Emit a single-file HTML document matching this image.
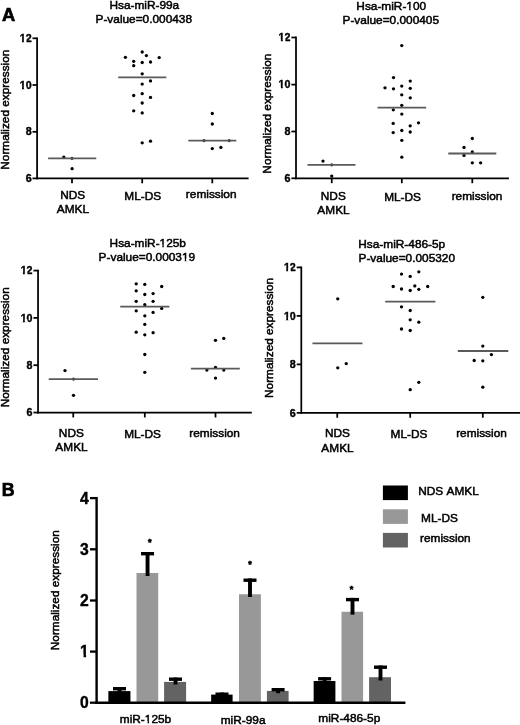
<!DOCTYPE html>
<html lang="en"><head><meta charset="utf-8"><title>Figure</title>
<style>html,body{margin:0;padding:0;background:#fff;}body{width:520px;height:725px;overflow:hidden;}svg{display:block;}svg text{font-family:"Liberation Sans", sans-serif;fill:#000;font-kerning:none;}</style></head><body>
<svg width="520" height="725" viewBox="0 0 520 725">
<rect width="520" height="725" fill="#fff"/>
<text x="2.0" y="20.7" font-size="18.3" text-anchor="start" font-weight="bold" stroke="#000" stroke-width="0.7">A</text>
<text x="1.75" y="496.4" font-size="17.8" text-anchor="start" font-weight="bold" stroke="#000" stroke-width="0.7">B</text>
<line x1="37.1" y1="37.42" x2="37.1" y2="179.28" stroke="#000" stroke-width="1.75"/>
<line x1="36.23" y1="178.4" x2="248.6" y2="178.4" stroke="#000" stroke-width="1.75"/>
<line x1="32.5" y1="38.3" x2="37.1" y2="38.3" stroke="#000" stroke-width="1.75"/>
<text x="31.6" y="41.95" font-size="10.7" text-anchor="end" font-weight="bold" stroke="#000" stroke-width="0.4">12</text>
<line x1="32.5" y1="85.0" x2="37.1" y2="85.0" stroke="#000" stroke-width="1.75"/>
<text x="31.6" y="88.65" font-size="10.7" text-anchor="end" font-weight="bold" stroke="#000" stroke-width="0.4">10</text>
<line x1="32.5" y1="131.8" x2="37.1" y2="131.8" stroke="#000" stroke-width="1.75"/>
<text x="31.6" y="135.45" font-size="10.7" text-anchor="end" font-weight="bold" stroke="#000" stroke-width="0.4">8</text>
<line x1="32.5" y1="178.4" x2="37.1" y2="178.4" stroke="#000" stroke-width="1.75"/>
<text x="31.6" y="182.05" font-size="10.7" text-anchor="end" font-weight="bold" stroke="#000" stroke-width="0.4">6</text>
<line x1="72" y1="178.4" x2="72" y2="183.3" stroke="#000" stroke-width="1.75"/>
<line x1="142.2" y1="178.4" x2="142.2" y2="183.3" stroke="#000" stroke-width="1.75"/>
<line x1="212.3" y1="178.4" x2="212.3" y2="183.3" stroke="#000" stroke-width="1.75"/>
<text x="8.8" y="109.7" font-size="11.6" text-anchor="middle" textLength="120.02" lengthAdjust="spacingAndGlyphs" transform="rotate(-90 8.8 109.7)" stroke="#000" stroke-width="0.5">Normalized expression</text>
<text x="109.43" y="8.6" font-size="11.6" text-anchor="start" textLength="69.8" lengthAdjust="spacingAndGlyphs" stroke="#000" stroke-width="0.5">Hsa-miR-99a</text>
<text x="95.53" y="22.7" font-size="11.6" text-anchor="start" textLength="96.52" lengthAdjust="spacingAndGlyphs" stroke="#000" stroke-width="0.5">P-value=0.000438</text>
<text x="72.75" y="199.4" font-size="11.6" text-anchor="middle" textLength="25.02" lengthAdjust="spacingAndGlyphs" stroke="#000" stroke-width="0.5">NDS</text>
<text x="72.9" y="213.4" font-size="11.6" text-anchor="middle" textLength="32.27" lengthAdjust="spacingAndGlyphs" stroke="#000" stroke-width="0.5">AMKL</text>
<text x="142.8" y="200.2" font-size="11.6" text-anchor="middle" textLength="36.87" lengthAdjust="spacingAndGlyphs" stroke="#000" stroke-width="0.5">ML-DS</text>
<text x="211.2" y="198.3" font-size="11.6" text-anchor="middle" textLength="50.7" lengthAdjust="spacingAndGlyphs" stroke="#000" stroke-width="0.5">remission</text>
<g fill="#000"><circle cx="63.8" cy="157.1" r="1.65"/><circle cx="72.1" cy="168.7" r="1.65"/><circle cx="125.4" cy="57.3" r="1.65"/><circle cx="142.2" cy="52.0" r="1.65"/><circle cx="146.4" cy="55.6" r="1.65"/><circle cx="159.2" cy="57.6" r="1.65"/><circle cx="133.7" cy="61.3" r="1.65"/><circle cx="142.2" cy="62.5" r="1.65"/><circle cx="150.5" cy="62.0" r="1.65"/><circle cx="133.7" cy="65.7" r="1.65"/><circle cx="142.2" cy="73.8" r="1.65"/><circle cx="150.5" cy="80.9" r="1.65"/><circle cx="142.2" cy="84.1" r="1.65"/><circle cx="133.7" cy="95.5" r="1.65"/><circle cx="142.2" cy="93.7" r="1.65"/><circle cx="150.5" cy="97.4" r="1.65"/><circle cx="142.2" cy="103.0" r="1.65"/><circle cx="133.7" cy="110.8" r="1.65"/><circle cx="142.2" cy="112.9" r="1.65"/><circle cx="142.2" cy="142.8" r="1.65"/><circle cx="150.5" cy="141.2" r="1.65"/><circle cx="212.3" cy="113.5" r="1.65"/><circle cx="212.3" cy="124.0" r="1.65"/><circle cx="212.3" cy="148.6" r="1.65"/><circle cx="220.9" cy="147.4" r="1.65"/></g>
<g fill="#222"><circle cx="72" cy="158.3" r="1.6"/><circle cx="204" cy="140.6" r="1.6"/><circle cx="229.2" cy="140.6" r="1.6"/></g>
<line x1="48.1" y1="158.3" x2="96.3" y2="158.3" stroke="#5a5a5a" stroke-width="1.8"/>
<line x1="118.2" y1="77.4" x2="166.3" y2="77.4" stroke="#5a5a5a" stroke-width="1.8"/>
<line x1="188.3" y1="140.7" x2="236.3" y2="140.7" stroke="#5a5a5a" stroke-width="1.8"/>
<line x1="296.0" y1="36.62" x2="296.0" y2="179.18" stroke="#000" stroke-width="1.75"/>
<line x1="295.12" y1="178.3" x2="508.9" y2="178.3" stroke="#000" stroke-width="1.75"/>
<line x1="291.4" y1="37.5" x2="296.0" y2="37.5" stroke="#000" stroke-width="1.75"/>
<text x="290.5" y="41.15" font-size="10.7" text-anchor="end" font-weight="bold" stroke="#000" stroke-width="0.4">12</text>
<line x1="291.4" y1="84.6" x2="296.0" y2="84.6" stroke="#000" stroke-width="1.75"/>
<text x="290.5" y="88.25" font-size="10.7" text-anchor="end" font-weight="bold" stroke="#000" stroke-width="0.4">10</text>
<line x1="291.4" y1="131.5" x2="296.0" y2="131.5" stroke="#000" stroke-width="1.75"/>
<text x="290.5" y="135.15" font-size="10.7" text-anchor="end" font-weight="bold" stroke="#000" stroke-width="0.4">8</text>
<line x1="291.4" y1="178.3" x2="296.0" y2="178.3" stroke="#000" stroke-width="1.75"/>
<text x="290.5" y="181.95" font-size="10.7" text-anchor="end" font-weight="bold" stroke="#000" stroke-width="0.4">6</text>
<line x1="331.75" y1="178.3" x2="331.75" y2="183.2" stroke="#000" stroke-width="1.75"/>
<line x1="401.8" y1="178.3" x2="401.8" y2="183.2" stroke="#000" stroke-width="1.75"/>
<line x1="472.3" y1="178.3" x2="472.3" y2="183.2" stroke="#000" stroke-width="1.75"/>
<text x="270.9" y="113.6" font-size="11.6" text-anchor="middle" textLength="120.02" lengthAdjust="spacingAndGlyphs" transform="rotate(-90 270.9 113.6)" stroke="#000" stroke-width="0.5">Normalized expression</text>
<text x="356.33" y="9.8" font-size="11.6" text-anchor="start" textLength="69.8" lengthAdjust="spacingAndGlyphs" stroke="#000" stroke-width="0.5">Hsa-miR-100</text>
<text x="342.53" y="24.1" font-size="11.6" text-anchor="start" textLength="96.52" lengthAdjust="spacingAndGlyphs" stroke="#000" stroke-width="0.5">P-value=0.000405</text>
<text x="333.3" y="199.8" font-size="11.6" text-anchor="middle" textLength="25.02" lengthAdjust="spacingAndGlyphs" stroke="#000" stroke-width="0.5">NDS</text>
<text x="333.5" y="213.7" font-size="11.6" text-anchor="middle" textLength="32.27" lengthAdjust="spacingAndGlyphs" stroke="#000" stroke-width="0.5">AMKL</text>
<text x="402.6" y="200.6" font-size="11.6" text-anchor="middle" textLength="36.87" lengthAdjust="spacingAndGlyphs" stroke="#000" stroke-width="0.5">ML-DS</text>
<text x="477" y="199.8" font-size="11.6" text-anchor="middle" textLength="50.7" lengthAdjust="spacingAndGlyphs" stroke="#000" stroke-width="0.5">remission</text>
<g fill="#000"><circle cx="323" cy="161.05" r="1.65"/><circle cx="331.75" cy="176.05" r="1.65"/><circle cx="401.75" cy="45.55" r="1.65"/><circle cx="393.5" cy="77.55" r="1.65"/><circle cx="410.25" cy="81.05" r="1.65"/><circle cx="385" cy="87.8" r="1.65"/><circle cx="393.5" cy="88.8" r="1.65"/><circle cx="401.75" cy="86.05" r="1.65"/><circle cx="410.25" cy="88.3" r="1.65"/><circle cx="401.75" cy="94.8" r="1.65"/><circle cx="410.25" cy="97.8" r="1.65"/><circle cx="401.75" cy="105.3" r="1.65"/><circle cx="393.3" cy="109.8" r="1.65"/><circle cx="401.8" cy="114.1" r="1.65"/><circle cx="393.2" cy="123.4" r="1.65"/><circle cx="418.5" cy="122.8" r="1.65"/><circle cx="410.2" cy="125.8" r="1.65"/><circle cx="393.2" cy="132.6" r="1.65"/><circle cx="401.8" cy="130.5" r="1.65"/><circle cx="410.2" cy="132.0" r="1.65"/><circle cx="401.8" cy="140.3" r="1.65"/><circle cx="401.8" cy="157.2" r="1.65"/><circle cx="472.3" cy="138.5" r="1.65"/><circle cx="464" cy="147.4" r="1.65"/><circle cx="472.3" cy="152.0" r="1.65"/><circle cx="464" cy="155.4" r="1.65"/><circle cx="472.3" cy="162.8" r="1.65"/><circle cx="480.6" cy="162.8" r="1.65"/></g>
<g fill="#222"><circle cx="331.75" cy="164.8" r="1.6"/></g>
<line x1="307.5" y1="164.8" x2="355.5" y2="164.8" stroke="#5a5a5a" stroke-width="1.8"/>
<line x1="377.5" y1="107.6" x2="426.2" y2="107.6" stroke="#5a5a5a" stroke-width="1.8"/>
<line x1="448.3" y1="153.5" x2="496.3" y2="153.5" stroke="#5a5a5a" stroke-width="1.8"/>
<line x1="38.05" y1="269.73" x2="38.05" y2="413.43" stroke="#000" stroke-width="1.75"/>
<line x1="37.17" y1="412.55" x2="251.8" y2="412.55" stroke="#000" stroke-width="1.75"/>
<line x1="33.45" y1="270.6" x2="38.05" y2="270.6" stroke="#000" stroke-width="1.75"/>
<text x="32.55" y="274.25" font-size="10.7" text-anchor="end" font-weight="bold" stroke="#000" stroke-width="0.4">12</text>
<line x1="33.45" y1="317.9" x2="38.05" y2="317.9" stroke="#000" stroke-width="1.75"/>
<text x="32.55" y="321.55" font-size="10.7" text-anchor="end" font-weight="bold" stroke="#000" stroke-width="0.4">10</text>
<line x1="33.45" y1="365.2" x2="38.05" y2="365.2" stroke="#000" stroke-width="1.75"/>
<text x="32.55" y="368.85" font-size="10.7" text-anchor="end" font-weight="bold" stroke="#000" stroke-width="0.4">8</text>
<line x1="33.45" y1="412.55" x2="38.05" y2="412.55" stroke="#000" stroke-width="1.75"/>
<text x="32.55" y="416.2" font-size="10.7" text-anchor="end" font-weight="bold" stroke="#000" stroke-width="0.4">6</text>
<line x1="73.25" y1="412.55" x2="73.25" y2="417.45" stroke="#000" stroke-width="1.75"/>
<line x1="144.8" y1="412.55" x2="144.8" y2="417.45" stroke="#000" stroke-width="1.75"/>
<line x1="215.5" y1="412.55" x2="215.5" y2="417.45" stroke="#000" stroke-width="1.75"/>
<text x="8.6" y="347.3" font-size="11.6" text-anchor="middle" textLength="120.02" lengthAdjust="spacingAndGlyphs" transform="rotate(-90 8.6 347.3)" stroke="#000" stroke-width="0.5">Normalized expression</text>
<text x="109.58" y="246.7" font-size="11.6" text-anchor="start" textLength="76.39" lengthAdjust="spacingAndGlyphs" stroke="#000" stroke-width="0.5">Hsa-miR-125b</text>
<text x="98.63" y="260.7" font-size="11.6" text-anchor="start" textLength="96.52" lengthAdjust="spacingAndGlyphs" stroke="#000" stroke-width="0.5">P-value=0.000319</text>
<text x="71.4" y="436.9" font-size="11.6" text-anchor="middle" textLength="25.02" lengthAdjust="spacingAndGlyphs" stroke="#000" stroke-width="0.5">NDS</text>
<text x="71.5" y="450.6" font-size="11.6" text-anchor="middle" textLength="32.27" lengthAdjust="spacingAndGlyphs" stroke="#000" stroke-width="0.5">AMKL</text>
<text x="142.6" y="438.1" font-size="11.6" text-anchor="middle" textLength="36.87" lengthAdjust="spacingAndGlyphs" stroke="#000" stroke-width="0.5">ML-DS</text>
<text x="214.6" y="437.3" font-size="11.6" text-anchor="middle" textLength="50.7" lengthAdjust="spacingAndGlyphs" stroke="#000" stroke-width="0.5">remission</text>
<g fill="#000"><circle cx="65" cy="370.55" r="1.65"/><circle cx="73.5" cy="395.3" r="1.65"/><circle cx="136.2" cy="283.8" r="1.65"/><circle cx="144.8" cy="284.4" r="1.65"/><circle cx="161.7" cy="286.5" r="1.65"/><circle cx="136.2" cy="290.8" r="1.65"/><circle cx="144.8" cy="294.5" r="1.65"/><circle cx="153.1" cy="293.6" r="1.65"/><circle cx="136.2" cy="301.3" r="1.65"/><circle cx="153.1" cy="301.3" r="1.65"/><circle cx="144.8" cy="304.7" r="1.65"/><circle cx="161.7" cy="308.4" r="1.65"/><circle cx="136.2" cy="310.8" r="1.65"/><circle cx="153.1" cy="312.4" r="1.65"/><circle cx="144.8" cy="315.8" r="1.65"/><circle cx="144.8" cy="324.4" r="1.65"/><circle cx="136.2" cy="332.2" r="1.65"/><circle cx="153.1" cy="332.7" r="1.65"/><circle cx="144.8" cy="334.8" r="1.65"/><circle cx="144.8" cy="354.5" r="1.65"/><circle cx="144.8" cy="372.3" r="1.65"/><circle cx="215.5" cy="340.3" r="1.65"/><circle cx="223.8" cy="338.4" r="1.65"/><circle cx="206.9" cy="370.1" r="1.65"/><circle cx="215.5" cy="367.4" r="1.65"/><circle cx="223.8" cy="370.1" r="1.65"/><circle cx="215.5" cy="378.1" r="1.65"/></g>
<g fill="#222"><circle cx="73.5" cy="379.05" r="1.6"/></g>
<line x1="48.75" y1="379.05" x2="98" y2="379.05" stroke="#5a5a5a" stroke-width="1.8"/>
<line x1="120.2" y1="306.7" x2="169.4" y2="306.7" stroke="#5a5a5a" stroke-width="1.8"/>
<line x1="190.9" y1="368.6" x2="239.8" y2="368.6" stroke="#5a5a5a" stroke-width="1.8"/>
<line x1="301.3" y1="266.52" x2="301.3" y2="413.73" stroke="#000" stroke-width="1.75"/>
<line x1="300.43" y1="412.85" x2="520" y2="412.85" stroke="#000" stroke-width="1.75"/>
<line x1="296.7" y1="267.4" x2="301.3" y2="267.4" stroke="#000" stroke-width="1.75"/>
<text x="295.8" y="271.05" font-size="10.7" text-anchor="end" font-weight="bold" stroke="#000" stroke-width="0.4">12</text>
<line x1="296.7" y1="315.9" x2="301.3" y2="315.9" stroke="#000" stroke-width="1.75"/>
<text x="295.8" y="319.55" font-size="10.7" text-anchor="end" font-weight="bold" stroke="#000" stroke-width="0.4">10</text>
<line x1="296.7" y1="364.4" x2="301.3" y2="364.4" stroke="#000" stroke-width="1.75"/>
<text x="295.8" y="368.05" font-size="10.7" text-anchor="end" font-weight="bold" stroke="#000" stroke-width="0.4">8</text>
<line x1="296.7" y1="412.85" x2="301.3" y2="412.85" stroke="#000" stroke-width="1.75"/>
<text x="295.8" y="416.5" font-size="10.7" text-anchor="end" font-weight="bold" stroke="#000" stroke-width="0.4">6</text>
<line x1="337.25" y1="412.85" x2="337.25" y2="417.75" stroke="#000" stroke-width="1.75"/>
<line x1="410.2" y1="412.85" x2="410.2" y2="417.75" stroke="#000" stroke-width="1.75"/>
<line x1="482.8" y1="412.85" x2="482.8" y2="417.75" stroke="#000" stroke-width="1.75"/>
<text x="272.7" y="337.9" font-size="11.6" text-anchor="middle" textLength="120.02" lengthAdjust="spacingAndGlyphs" transform="rotate(-90 272.7 337.9)" stroke="#000" stroke-width="0.5">Normalized expression</text>
<text x="358.28" y="247.5" font-size="11.6" text-anchor="start" textLength="86.93" lengthAdjust="spacingAndGlyphs" stroke="#000" stroke-width="0.5">Hsa-miR-486-5p</text>
<text x="358.53" y="261.8" font-size="11.6" text-anchor="start" textLength="96.52" lengthAdjust="spacingAndGlyphs" stroke="#000" stroke-width="0.5">P-value=0.005320</text>
<text x="337.5" y="437.2" font-size="11.6" text-anchor="middle" textLength="25.02" lengthAdjust="spacingAndGlyphs" stroke="#000" stroke-width="0.5">NDS</text>
<text x="337.5" y="451.7" font-size="11.6" text-anchor="middle" textLength="32.27" lengthAdjust="spacingAndGlyphs" stroke="#000" stroke-width="0.5">AMKL</text>
<text x="409" y="438.4" font-size="11.6" text-anchor="middle" textLength="36.87" lengthAdjust="spacingAndGlyphs" stroke="#000" stroke-width="0.5">ML-DS</text>
<text x="481.5" y="437.3" font-size="11.6" text-anchor="middle" textLength="50.7" lengthAdjust="spacingAndGlyphs" stroke="#000" stroke-width="0.5">remission</text>
<g fill="#000"><circle cx="337.75" cy="298.8" r="1.65"/><circle cx="337.75" cy="367.8" r="1.65"/><circle cx="346.25" cy="363.55" r="1.65"/><circle cx="401.5" cy="274.1" r="1.65"/><circle cx="410.2" cy="276.4" r="1.65"/><circle cx="418.8" cy="271.8" r="1.65"/><circle cx="393.2" cy="286.5" r="1.65"/><circle cx="401.5" cy="289.0" r="1.65"/><circle cx="410.2" cy="290.5" r="1.65"/><circle cx="414.8" cy="285.9" r="1.65"/><circle cx="418.8" cy="289.3" r="1.65"/><circle cx="427.7" cy="286.5" r="1.65"/><circle cx="401.5" cy="306.8" r="1.65"/><circle cx="410.2" cy="310.5" r="1.65"/><circle cx="410.2" cy="319.8" r="1.65"/><circle cx="418.8" cy="322.2" r="1.65"/><circle cx="401.5" cy="329.0" r="1.65"/><circle cx="410.2" cy="330.5" r="1.65"/><circle cx="410.2" cy="389.7" r="1.65"/><circle cx="418.8" cy="382.3" r="1.65"/><circle cx="482.8" cy="297.3" r="1.65"/><circle cx="482.8" cy="346.1" r="1.65"/><circle cx="491.4" cy="354.6" r="1.65"/><circle cx="474.2" cy="360.5" r="1.65"/><circle cx="482.8" cy="360.8" r="1.65"/><circle cx="482.8" cy="387.2" r="1.65"/></g>
<line x1="312.5" y1="343.3" x2="362.5" y2="343.3" stroke="#5a5a5a" stroke-width="1.8"/>
<line x1="385.2" y1="301.7" x2="435.4" y2="301.7" stroke="#5a5a5a" stroke-width="1.8"/>
<line x1="457.8" y1="351.0" x2="508.3" y2="351.0" stroke="#5a5a5a" stroke-width="1.8"/>
<rect x="108.35" y="691.1" width="22.1" height="11.6" fill="#000"/>
<rect x="136.5" y="573" width="21.7" height="129.7" fill="#989898"/>
<rect x="164.1" y="681.9" width="22.0" height="20.8" fill="#636363"/>
<rect x="211.15" y="694.6" width="21.45" height="8.1" fill="#000"/>
<rect x="239" y="594.25" width="21.9" height="108.45" fill="#989898"/>
<rect x="266.9" y="690.9" width="21.7" height="11.8" fill="#636363"/>
<rect x="313.65" y="681.0" width="21.75" height="21.7" fill="#000"/>
<rect x="341.5" y="611.75" width="21.6" height="90.95" fill="#989898"/>
<rect x="369.1" y="677.2" width="21.9" height="25.5" fill="#636363"/>
<rect x="113.0" y="687.0" width="13.0" height="3.4" fill="#000"/>
<rect x="117.55" y="687.0" width="3.9" height="5.0" fill="#000"/>
<rect x="141.05" y="552.0" width="13.0" height="3.4" fill="#000"/>
<rect x="145.60000000000002" y="552.0" width="3.9" height="24.0" fill="#000"/>
<rect x="169.0" y="677.5" width="13.0" height="3.4" fill="#000"/>
<rect x="173.55" y="677.5" width="3.9" height="7.0" fill="#000"/>
<rect x="215.5" y="692.5" width="13.0" height="3.4" fill="#000"/>
<rect x="220.05" y="692.5" width="3.9" height="3.0" fill="#000"/>
<rect x="243.5" y="578.5" width="13.0" height="3.4" fill="#000"/>
<rect x="248.05" y="578.5" width="3.9" height="18.5" fill="#000"/>
<rect x="271.6" y="688.0" width="13.0" height="3.4" fill="#000"/>
<rect x="276.15000000000003" y="688.0" width="3.9" height="5.2" fill="#000"/>
<rect x="318.1" y="677.1" width="13.0" height="3.4" fill="#000"/>
<rect x="322.65000000000003" y="677.1" width="3.9" height="4.9" fill="#000"/>
<rect x="346.0" y="597.9" width="13.0" height="3.4" fill="#000"/>
<rect x="350.55" y="597.9" width="3.9" height="16.7" fill="#000"/>
<rect x="374.0" y="665.5" width="13.0" height="3.4" fill="#000"/>
<rect x="378.55" y="665.5" width="3.9" height="15.0" fill="#000"/>
<line x1="96.6" y1="496.95" x2="96.6" y2="703.9" stroke="#000" stroke-width="2.4"/>
<line x1="95.4" y1="702.7" x2="405.4" y2="702.7" stroke="#000" stroke-width="2.4"/>
<line x1="90.0" y1="498.1" x2="96.6" y2="498.1" stroke="#000" stroke-width="2.3"/>
<text x="88.8" y="503.6" font-size="15.7" text-anchor="end" font-weight="bold" stroke="#000" stroke-width="0.4">4</text>
<line x1="90.0" y1="549.3" x2="96.6" y2="549.3" stroke="#000" stroke-width="2.3"/>
<text x="88.8" y="554.8" font-size="15.7" text-anchor="end" font-weight="bold" stroke="#000" stroke-width="0.4">3</text>
<line x1="90.0" y1="600.5" x2="96.6" y2="600.5" stroke="#000" stroke-width="2.3"/>
<text x="88.8" y="606.0" font-size="15.7" text-anchor="end" font-weight="bold" stroke="#000" stroke-width="0.4">2</text>
<line x1="90.0" y1="651.6" x2="96.6" y2="651.6" stroke="#000" stroke-width="2.3"/>
<text x="88.8" y="657.1" font-size="15.7" text-anchor="end" font-weight="bold" stroke="#000" stroke-width="0.4">1</text>
<line x1="90.0" y1="702.7" x2="96.6" y2="702.7" stroke="#000" stroke-width="2.3"/>
<text x="88.8" y="708.2" font-size="15.7" text-anchor="end" font-weight="bold" stroke="#000" stroke-width="0.4">0</text>
<text x="59.2" y="590.2" font-size="11.6" text-anchor="middle" textLength="120.02" lengthAdjust="spacingAndGlyphs" transform="rotate(-90 59.2 590.2)" stroke="#000" stroke-width="0.5">Normalized expression</text>
<text x="145.5" y="722.9" font-size="11.6" text-anchor="middle" textLength="51.37" lengthAdjust="spacingAndGlyphs" stroke="#000" stroke-width="0.5">miR-125b</text>
<text x="243.1" y="723.7" font-size="11.6" text-anchor="middle" textLength="44.78" lengthAdjust="spacingAndGlyphs" stroke="#000" stroke-width="0.5">miR-99a</text>
<text x="349.3" y="721.8" font-size="11.6" text-anchor="middle" textLength="61.91" lengthAdjust="spacingAndGlyphs" stroke="#000" stroke-width="0.5">miR-486-5p</text>
<text x="149.8" y="545.1" font-size="9" text-anchor="middle" font-weight="bold" stroke="#000" stroke-width="0.6">*</text>
<text x="249.9" y="567.3" font-size="9" text-anchor="middle" font-weight="bold" stroke="#000" stroke-width="0.6">*</text>
<text x="351.45" y="591.5" font-size="9" text-anchor="middle" font-weight="bold" stroke="#000" stroke-width="0.6">*</text>
<rect x="382.9" y="485.5" width="25" height="14.6" fill="#000"/>
<rect x="382.9" y="509.3" width="25" height="14.6" fill="#989898"/>
<rect x="382.9" y="532.9" width="25" height="14.6" fill="#636363"/>
<text x="418.23" y="495.0" font-size="11.6" text-anchor="start" textLength="60.58" lengthAdjust="spacingAndGlyphs" stroke="#000" stroke-width="0.5">NDS AMKL</text>
<text x="421.13" y="521.8" font-size="11.6" text-anchor="start" textLength="36.87" lengthAdjust="spacingAndGlyphs" stroke="#000" stroke-width="0.5">ML-DS</text>
<text x="420.01" y="541.9" font-size="11.6" text-anchor="start" textLength="50.7" lengthAdjust="spacingAndGlyphs" stroke="#000" stroke-width="0.5">remission</text>
<g fill="#fff"><rect x="19.28" y="39.86" width="2.72" height="3.19"/><rect x="23.88" y="39.86" width="2.59" height="3.19"/><rect x="19.28" y="86.56" width="2.72" height="3.19"/><rect x="23.88" y="86.56" width="2.59" height="3.19"/><rect x="278.18" y="39.06" width="2.72" height="3.19"/><rect x="282.78" y="39.06" width="2.59" height="3.19"/><rect x="278.18" y="86.16" width="2.72" height="3.19"/><rect x="282.78" y="86.16" width="2.59" height="3.19"/><rect x="406.10" y="7.88" width="2.98" height="3.07"/><rect x="410.63" y="7.88" width="2.89" height="3.07"/><rect x="20.23" y="272.16" width="2.72" height="3.19"/><rect x="24.83" y="272.16" width="2.59" height="3.19"/><rect x="20.23" y="319.46" width="2.72" height="3.19"/><rect x="24.83" y="319.46" width="2.59" height="3.19"/><rect x="159.35" y="244.78" width="2.98" height="3.07"/><rect x="163.88" y="244.78" width="2.89" height="3.07"/><rect x="181.71" y="258.78" width="2.98" height="3.07"/><rect x="186.25" y="258.78" width="2.89" height="3.07"/><rect x="283.48" y="268.96" width="2.72" height="3.19"/><rect x="288.08" y="268.96" width="2.59" height="3.19"/><rect x="283.48" y="317.46" width="2.72" height="3.19"/><rect x="288.08" y="317.46" width="2.59" height="3.19"/><rect x="79.95" y="654.50" width="3.58" height="3.70"/><rect x="86.09" y="654.50" width="3.38" height="3.70"/><rect x="144.56" y="720.98" width="2.98" height="3.07"/><rect x="149.10" y="720.98" width="2.89" height="3.07"/></g>
</svg></body></html>
